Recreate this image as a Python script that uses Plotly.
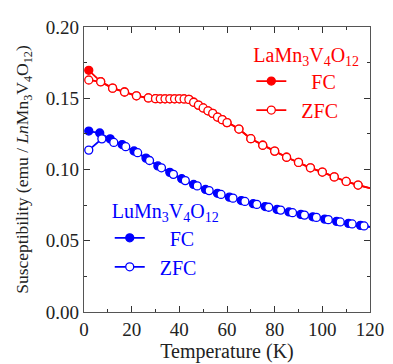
import plotly.graph_objects as go

# ---- data ----
la_fc_T = [2, 7, 12, 17, 22, 27, 30, 32, 34, 36, 38, 40, 42, 44, 46, 48, 50, 52, 54, 56, 58, 60,
           65, 70, 75, 80, 85, 90, 95, 100, 105, 110, 115, 120]
la_fc_chi = [0.1696, 0.1617, 0.1571, 0.1544, 0.1517, 0.1502, 0.1497, 0.1496, 0.1496, 0.1496, 0.1496,
             0.1496, 0.1495, 0.1492, 0.1472, 0.1452, 0.1432, 0.1412, 0.1394, 0.1368, 0.1350, 0.1329,
             0.1284, 0.1216, 0.1170, 0.1129, 0.1086, 0.1050, 0.1012, 0.0982, 0.0948, 0.0916, 0.0891, 0.0869]

la_zfc_T = [2, 7, 12, 17, 22, 27, 30, 32, 34, 36, 38, 40, 42, 44, 46, 48, 50, 52, 54, 56, 58, 60,
            65, 70, 75, 80, 85, 90, 95, 100, 105, 110, 115, 120]
la_zfc_chi = [0.1628, 0.1615, 0.1571, 0.1544, 0.1517, 0.1502, 0.1497, 0.1496, 0.1496, 0.1496, 0.1496,
              0.1496, 0.1495, 0.1492, 0.1472, 0.1452, 0.1432, 0.1412, 0.1394, 0.1368, 0.1350, 0.1329,
              0.1284, 0.1216, 0.1170, 0.1129, 0.1086, 0.1050, 0.1012, 0.0982, 0.0948, 0.0916, 0.0891, 0.0869]

lu_fc_T = [2, 6.6, 11, 16, 21, 26, 31, 36, 41, 46, 51, 56, 61, 66, 71, 76, 81, 86, 91, 96,
           101, 106, 111, 116, 120]
lu_fc_chi = [0.1270, 0.1256, 0.1215, 0.1175, 0.1130, 0.1080, 0.1025, 0.0980, 0.0935, 0.0895,
             0.0860, 0.0833, 0.0806, 0.0782, 0.0760, 0.0740, 0.0720, 0.0702, 0.0685, 0.0668,
             0.0652, 0.0636, 0.0622, 0.0608, 0.0597]

lu_zfc_T = [2, 7.5, 12.5, 17.5, 22.5, 27.5, 32.5, 37.5, 42.5, 47.5, 52.5, 57.5, 62.5, 67.5, 72.5,
            77.5, 82.5, 87.5, 92.5, 97.5, 102.5, 107.5, 112.5, 117.5, 120]
lu_zfc_chi = [0.1136, 0.1215, 0.1190, 0.1160, 0.1118, 0.1063, 0.1012, 0.0966, 0.0922, 0.0885,
              0.0852, 0.0825, 0.0799, 0.0776, 0.0755, 0.0735, 0.0715, 0.0697, 0.0680, 0.0664,
              0.0648, 0.0632, 0.0618, 0.0604, 0.0597]

x_ticks = [0, 20, 40, 60, 80, 100, 120]
y_ticks = [0.00, 0.05, 0.10, 0.15, 0.20]
y_tick_labels = ["0.00", "0.05", "0.10", "0.15", "0.20"]

RED = "#ff0000"
BLUE = "#0000ff"
FONT = "Liberation Serif"
MS = 8
NB = "\u00a0"

fig = go.Figure()


def add_series(T, chi, color, filled, name, legend):
    # line segment to the frame edge (last point carries no marker)
    fig.add_trace(go.Scatter(x=T[-2:], y=chi[-2:], mode="lines",
                             line=dict(color=color, width=1.8),
                             showlegend=False, hoverinfo="skip", legend=legend))
    fig.add_trace(go.Scatter(
        x=T[:-1], y=chi[:-1], mode="lines+markers", name=name, legend=legend,
        line=dict(color=color, width=1.8),
        marker=dict(symbol="circle", size=MS,
                    color=color if filled else "white",
                    line=dict(color=color, width=1.3)),
    ))


add_series(la_fc_T, la_fc_chi, RED, True, NB * 4 + "FC", "legend")
add_series(la_zfc_T, la_zfc_chi, RED, False, NB * 2 + "ZFC", "legend")
add_series(lu_fc_T, lu_fc_chi, BLUE, True, NB * 4 + "FC", "legend2")
add_series(lu_zfc_T, lu_zfc_chi, BLUE, False, NB * 2 + "ZFC", "legend2")

axis_common = dict(
    showline=True, linecolor="#555555", linewidth=1.3, mirror="allticks",
    ticks="inside", ticklen=6, tickcolor="#333333", tickwidth=1,
    showgrid=False, zeroline=False, ticklabeloverflow="allow",
    tickfont=dict(family=FONT, size=19, color="#222222"),
)

fig.update_xaxes(
    range=[0, 120], tickvals=x_ticks,
    minor=dict(dtick=10, ticks="inside", ticklen=3, tickcolor="#333333", showgrid=False),
    title=dict(text="Temperature (K)", font=dict(family=FONT, size=20, color="#222222"), standoff=1),
    **axis_common,
)
fig.update_yaxes(
    range=[0, 0.20], tickvals=y_ticks, ticktext=y_tick_labels,
    minor=dict(dtick=0.025, tick0=0, ticks="inside", ticklen=3, tickcolor="#333333", showgrid=False),
    title=dict(text="Susceptibility (emu / <i>Ln</i>Mn<sub>3</sub>V<sub>4</sub>O<sub>12</sub>)",
               font=dict(family=FONT, size=17.5, color="#222222"), standoff=12),
    **axis_common,
)

# the page adds an 8px body margin; plot area lands at x 84..376, y 18..312
fig.update_layout(
    width=385, height=356,
    margin=dict(l=76, r=9, t=10, b=44),
    paper_bgcolor="white", plot_bgcolor="white",
    font=dict(family=FONT),
    legend=dict(
        title=dict(text="LaMn<sub>3</sub>V<sub>4</sub>O<sub>12</sub>", side="top",
                   font=dict(family=FONT, size=20, color=RED)),
        font=dict(family=FONT, size=20, color=RED),
        x=0.585, xanchor="left", y=0.97, yanchor="top",
        bgcolor="rgba(0,0,0,0)", tracegroupgap=0,
    ),
    legend2=dict(
        title=dict(text="LuMn<sub>3</sub>V<sub>4</sub>O<sub>12</sub>", side="top",
                   font=dict(family=FONT, size=20, color=BLUE)),
        font=dict(family=FONT, size=20, color=BLUE),
        x=0.09, xanchor="left", y=0.42, yanchor="top",
        bgcolor="rgba(0,0,0,0)", tracegroupgap=0,
    ),
)

fig.write_html("out.html")
